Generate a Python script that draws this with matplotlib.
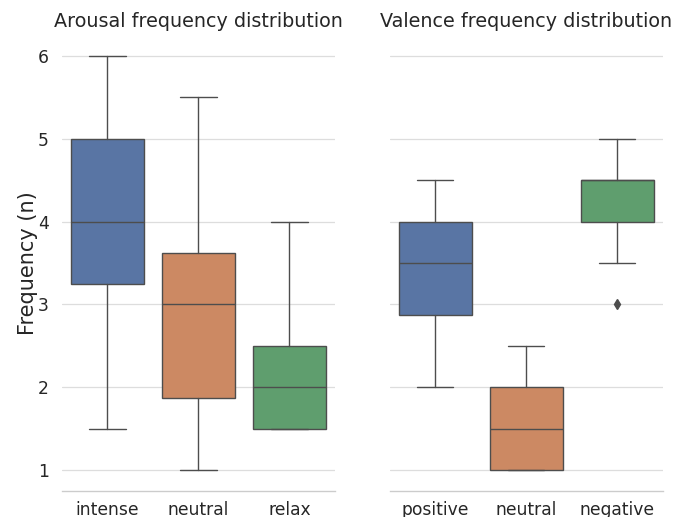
import matplotlib
matplotlib.use("Agg")
import matplotlib.pyplot as plt
import seaborn as sns

sns.set_theme(style="whitegrid", context="notebook")
plt.rcParams["font.family"] = ["DejaVu Sans"]

# Arousal box statistics
arousal_labels = ["intense", "neutral", "relax"]
arousal_whislo = [1.5, 1.0, 1.5]
arousal_q1 = [3.25, 1.875, 1.5]
arousal_med = [4.0, 3.0, 2.0]
arousal_q3 = [5.0, 3.625, 2.5]
arousal_whishi = [6.0, 5.5, 4.0]
arousal_fliers = [[], [], []]

# Valence box statistics
valence_labels = ["positive", "neutral", "negative"]
valence_whislo = [2.0, 1.0, 3.5]
valence_q1 = [2.875, 1.0, 4.0]
valence_med = [3.5, 1.5, 4.5]
valence_q3 = [4.0, 2.0, 4.5]
valence_whishi = [4.5, 2.5, 5.0]
valence_fliers = [[], [], [3.0]]

palette = sns.color_palette("deep", 3)
box_colors = [sns.desaturate(c, 0.75) for c in palette]
line_color = "#4d4d4d"
text_color = "#262626"
lw = 1.0


def make_stats(labels, lo, q1, med, q3, hi, fliers):
    return [
        dict(label=l, whislo=a, q1=b, med=c, q3=d, whishi=e, fliers=f)
        for l, a, b, c, d, e, f in zip(labels, lo, q1, med, q3, hi, fliers)
    ]


def draw(ax, stats, title):
    ax.bxp(
        stats,
        positions=range(len(stats)),
        widths=0.8,
        patch_artist=True,
        showfliers=True,
        boxprops=dict(edgecolor=line_color, linewidth=lw),
        medianprops=dict(color=line_color, linewidth=lw),
        whiskerprops=dict(color=line_color, linewidth=lw),
        capprops=dict(color=line_color, linewidth=lw),
        flierprops=dict(marker="d", markersize=5, markerfacecolor=line_color,
                        markeredgecolor=line_color),
        capwidths=0.4,
    )
    for patch, col in zip(ax.patches, box_colors):
        patch.set_facecolor(col)
    ax.set_xlim(-0.5, len(stats) - 0.5)
    ax.set_xticks(range(len(stats)))
    ax.set_xticklabels([s["label"] for s in stats])
    ax.set_title(title, fontsize=13.8, pad=5.5, color=text_color)
    ax.grid(axis="x", visible=False)
    ax.grid(axis="y", color="#dddddd", linewidth=0.9)
    ax.tick_params(axis="both", labelsize=12.3, colors=text_color)
    ax.tick_params(axis="x", length=0, pad=7)
    for side in ("left", "right", "top"):
        ax.spines[side].set_visible(False)
    ax.spines["bottom"].set_color("#cccccc")
    ax.spines["bottom"].set_linewidth(1.0)


fig = plt.figure(figsize=(6.85, 5.17), dpi=100)
ax1 = fig.add_axes([0.0905, 0.0503, 0.3985, 0.882])
ax2 = fig.add_axes([0.569, 0.0503, 0.3985, 0.882], sharey=ax1)

draw(ax1, make_stats(arousal_labels, arousal_whislo, arousal_q1, arousal_med,
                     arousal_q3, arousal_whishi, arousal_fliers),
     "Arousal frequency distribution")
draw(ax2, make_stats(valence_labels, valence_whislo, valence_q1, valence_med,
                     valence_q3, valence_whishi, valence_fliers),
     "Valence frequency distribution")

ax1.set_ylim(0.75, 6.25)
ax1.set_yticks([1, 2, 3, 4, 5, 6])
ax1.set_ylabel("Frequency (n)", fontsize=15, color=text_color, labelpad=0)
ax2.tick_params(axis="y", labelleft=False)

fig.savefig("out.png", dpi=100)
